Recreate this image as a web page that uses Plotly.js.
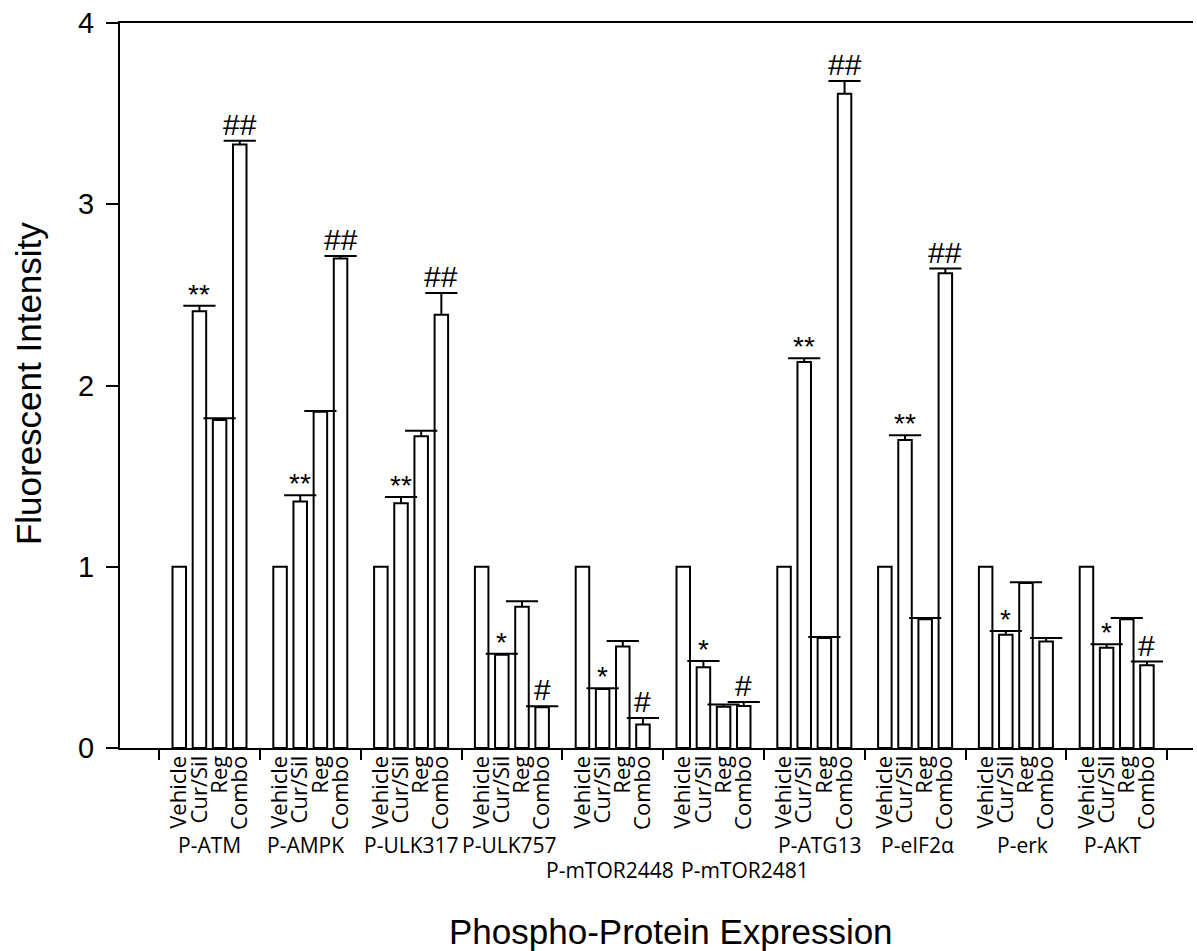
<!DOCTYPE html>
<html>
<head>
<meta charset="utf-8">
<script src="https://cdn.plot.ly/plotly-3.0.1.min.js"></script>
<style>
  html, body { margin: 0; padding: 0; background: #ffffff; }
  #chart { width: 1197px; height: 951px; }
</style>
</head>
<body>
<div id="chart"></div>
<script>
// Phospho-protein groups and treatments
const groups = ['P-ATM', 'P-AMPK', 'P-ULK317', 'P-ULK757', 'P-mTOR2448',
                'P-mTOR2481', 'P-ATG13', 'P-eIF2α', 'P-erk', 'P-AKT'];
const treatments = ['Vehicle', 'Cur/Sil', 'Reg', 'Combo'];

// Mean fluorescent intensity (normalised to vehicle) and upper error
const vehicle    = [1, 1, 1, 1, 1, 1, 1, 1, 1, 1];
const vehicleErr = [0, 0, 0, 0, 0, 0, 0, 0, 0, 0];
const curSil     = [2.41, 1.36, 1.35, 0.515, 0.325, 0.445, 2.13, 1.70, 0.625, 0.553];
const curSilErr  = [0.03, 0.035, 0.035, 0.005, 0.005, 0.035, 0.02, 0.025, 0.02, 0.02];
const reg        = [1.81, 1.855, 1.72, 0.78, 0.56, 0.228, 0.607, 0.71, 0.91, 0.71];
const regErr     = [0.01, 0.005, 0.03, 0.03, 0.03, 0.012, 0.005, 0.007, 0.005, 0.007];
const combo      = [3.33, 2.70, 2.39, 0.225, 0.13, 0.232, 3.61, 2.62, 0.587, 0.457];
const comboErr   = [0.02, 0.015, 0.12, 0.005, 0.035, 0.022, 0.07, 0.025, 0.02, 0.02];

// Significance marks
const curSilSig = ['**', '**', '**', '*', '*', '*', '**', '**', '*', '*'];
const comboSig  = ['##', '##', '##', '#', '#', '#', '##', '##', '', '#'];

const series = [
  { name: treatments[0], y: vehicle, err: vehicleErr },
  { name: treatments[1], y: curSil,  err: curSilErr },
  { name: treatments[2], y: reg,     err: regErr },
  { name: treatments[3], y: combo,   err: comboErr }
];

// Layout geometry (group units on the x axis)
const SLOT = 0.2;       // spacing between bars of a group
const BAR_W = 0.134;    // bar width
const groupIdx = groups.map((g, i) => i);
const slotX = j => groupIdx.map(g => g + (j - 1.5) * SLOT);

const traces = [];
series.forEach((s, j) => {
  const xs = slotX(j);
  traces.push({
    type: 'bar', x: xs, y: s.y, width: BAR_W, name: s.name,
    marker: { color: '#ffffff', line: { color: '#000000', width: 2 } },
    hoverinfo: 'x+y', showlegend: false
  });
  // error stem and cap above each bar
  const idx = s.err.map((e, i) => i).filter(i => s.err[i] > 0);
  if (idx.length) {
    traces.push({
      type: 'scatter', mode: 'markers',
      x: idx.map(i => xs[i]), y: idx.map(i => s.y[i] + s.err[i]),
      marker: { symbol: 'line-ew-open', size: 23, color: '#000000',
                line: { color: '#000000', width: 2 } },
      error_y: { type: 'data', symmetric: false,
                 array: idx.map(() => 0), arrayminus: idx.map(i => s.err[i]),
                 color: '#000000', thickness: 2, width: 0 },
      hoverinfo: 'skip', showlegend: false, cliponaxis: false
    });
  }
});

// Tick positions / labels under every bar
const tickVals = [], tickText = [];
groupIdx.forEach(g => treatments.forEach((t, j) => {
  tickVals.push(g + (j - 1.5) * SLOT);
  tickText.push(t);
}));
const boundaries = groups.map((g, i) => i - 0.5).concat([groups.length - 0.5]);

const annotations = [];
// significance marks
const sigMarks = [[1, curSil, curSilErr, curSilSig, 28, -6], [3, combo, comboErr, comboSig, 30, -2]];
sigMarks.forEach(([j, vals, errs, marks, size, shift]) => {
  const xs = slotX(j);
  marks.forEach((m, i) => {
    if (!m) return;
    annotations.push({
      x: xs[i], y: vals[i] + errs[i], xref: 'x', yref: 'y',
      text: m, showarrow: false, yanchor: 'bottom', yshift: shift,
      font: { family: 'Arial, "Liberation Sans", sans-serif', size: size, color: '#000000' }
    });
  });
});

// group names (two mTOR labels sit on a second row)
const labelShift = [0, -0.045, 0, -0.02, -0.03, 0.31, 0.06, 0.02, 0.07, -0.04];
const labelRow   = [0, 0, 0, 0, 1, 1, 0, 0, 0, 0];
groups.forEach((g, i) => {
  annotations.push({
    x: i + labelShift[i], y: labelRow[i] ? -0.168 : -0.134, xref: 'x', yref: 'paper',
    text: g, showarrow: false, xanchor: 'center', yanchor: 'middle',
    font: { family: '"Open Sans", sans-serif', size: 21, color: '#000000' }
  });
});

// axis titles
annotations.push({
  x: 0.5135, y: -0.253, xref: 'paper', yref: 'paper',
  text: 'Phospho-Protein Expression', showarrow: false,
  xanchor: 'center', yanchor: 'middle',
  font: { family: 'Arial, "Liberation Sans", sans-serif', size: 35, color: '#000000' }
});
annotations.push({
  x: -0.0857, y: 0.502, xref: 'paper', yref: 'paper',
  text: 'Fluorescent Intensity', showarrow: false, textangle: -90,
  xanchor: 'center', yanchor: 'middle',
  font: { family: 'Arial, "Liberation Sans", sans-serif', size: 35, color: '#000000' }
});

const layout = {
  width: 1197, height: 951,
  margin: { l: 120, r: 4, t: 23, b: 203 },
  paper_bgcolor: '#ffffff', plot_bgcolor: '#ffffff',
  showlegend: false,
  xaxis: {
    type: 'linear', range: [-0.888, 9.757], automargin: false,
    tickmode: 'array', tickvals: tickVals, ticktext: tickText,
    tickangle: -90, ticks: '', ticklabelstandoff: -3,
    tickfont: { family: '"Open Sans", sans-serif', size: 22, color: '#000000' },
    minor: { tickmode: 'array', tickvals: boundaries, ticks: 'outside',
             ticklen: 10, tickwidth: 2, tickcolor: '#000000', showgrid: false },
    showline: true, linecolor: '#000000', linewidth: 2, mirror: true,
    showgrid: false, zeroline: false, fixedrange: true
  },
  yaxis: {
    range: [0, 4], automargin: false,
    tickmode: 'array', tickvals: [0, 1, 2, 3, 4],
    ticks: 'outside', ticklen: 12, tickwidth: 2, tickcolor: '#000000',
    ticklabelstandoff: 6,
    tickfont: { family: 'Arial, "Liberation Sans", sans-serif', size: 29, color: '#000000' },
    showline: true, linecolor: '#000000', linewidth: 2,
    showgrid: false, zeroline: false, fixedrange: true
  },
  annotations: annotations
};

Plotly.newPlot('chart', traces, layout, { displayModeBar: false, staticPlot: true });
</script>
</body>
</html>
